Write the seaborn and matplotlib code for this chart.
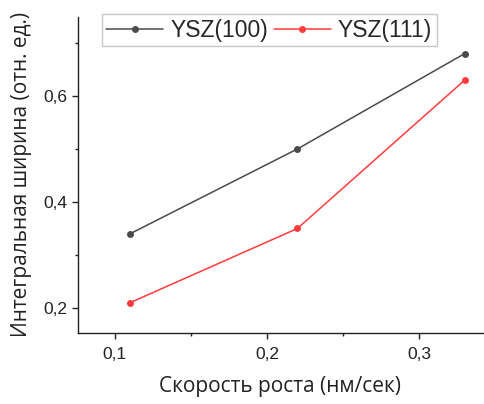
import matplotlib
matplotlib.use("Agg")
import matplotlib.pyplot as plt
import seaborn as sns
import pandas as pd
from matplotlib.ticker import AutoMinorLocator

#%%
# Data
rate = [0.11, 0.22, 0.33]
ysz100 = [0.34, 0.50, 0.68]
ysz111 = [0.21, 0.35, 0.63]
series_names = ["YSZ(100)", "YSZ(111)"]
xticks = [0.1, 0.2, 0.3]
xticklabels = ["0,1", "0,2", "0,3"]
yticks = [0.2, 0.4, 0.6]
yticklabels = ["0,2", "0,4", "0,6"]

df = pd.DataFrame({
    "rate": rate * 2,
    "width": ysz100 + ysz111,
    "sample": [series_names[0]] * 3 + [series_names[1]] * 3,
})

#%%
sns.set_style("ticks")
plt.rcParams['font.family'] = ['Liberation Sans', 'DejaVu Sans']

fig = plt.figure(figsize=(4.84, 4.04), dpi=100)
ax = fig.add_axes([0.161, 0.176, 0.837, 0.782])

palette = {series_names[0]: "#4a4a4a", series_names[1]: "#ff3b3b"}
sns.lineplot(data=df, x="rate", y="width", hue="sample", palette=palette,
             marker="o", markersize=5, markeredgewidth=0, linewidth=1.1, ax=ax)

ax.set_xlim(0.0757, 0.342)
ax.set_ylim(0.153, 0.749)
ax.set_xticks(xticks, xticklabels)
ax.set_yticks(yticks, yticklabels)
ax.xaxis.set_minor_locator(AutoMinorLocator(2))
ax.yaxis.set_minor_locator(AutoMinorLocator(2))
ax.tick_params(which="major", length=4, width=1, labelsize=12.5, colors="#222222")
ax.tick_params(which="minor", length=2.5, width=1, colors="#222222")
ax.tick_params(axis="x", pad=6)

for s in ["top", "right"]:
    ax.spines[s].set_visible(False)
for s in ["left", "bottom"]:
    ax.spines[s].set_color("#222222")
    ax.spines[s].set_linewidth(1)

ax.set_xlabel("Скорость роста (нм/сек)", family=["Open Sans", "DejaVu Sans"],
              fontsize=15, labelpad=10, color="#222222")
ax.set_ylabel("Интегральная ширина (отн. ед.)", family=["Open Sans", "DejaVu Sans"],
              fontsize=15, labelpad=8, color="#222222")

leg = ax.legend(ncol=2, loc="upper left", bbox_to_anchor=(0.03, 1.045), fontsize=16.5,
                frameon=True, fancybox=False, edgecolor="#bbbbbb", handlelength=2.5,
                handletextpad=0.3, columnspacing=0.25, borderpad=0.2)
leg.get_frame().set_linewidth(1)
leg.set_title(None)

fig.savefig("out.png", dpi=100)
